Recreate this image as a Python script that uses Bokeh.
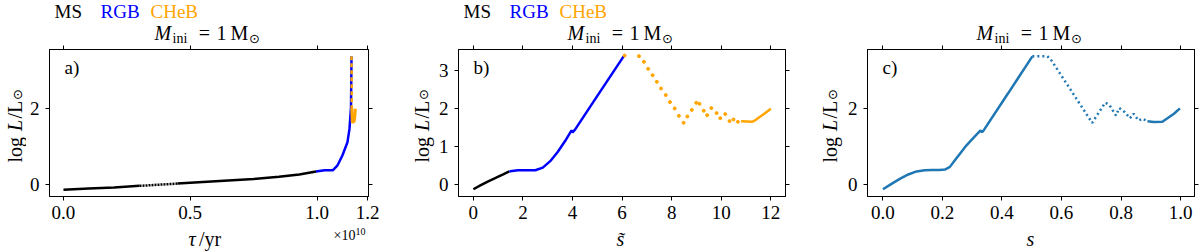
import math
from bokeh.plotting import figure
from bokeh.layouts import row, column
from bokeh.models import Range1d, FixedTicker, LinearAxis, Label, CustomJSTickFormatter
from bokeh.embed import file_html
from bokeh.resources import INLINE

# ---------------- data ----------------
# panel a) : stellar age tau [yr] vs log L/Lsun
tau_ms = [0.0, 0.10e10, 0.20e10, 0.30e10]
logL_ms_a = [-0.13, -0.10, -0.07, -0.03]
tau_ms_sparse = [0.30e10, 0.45e10]
logL_ms_sparse_a = [-0.03, 0.03]
tau_ms2 = [0.45e10, 0.55e10, 0.65e10, 0.75e10, 0.85e10, 0.93e10, 0.996e10]
logL_ms2_a = [0.03, 0.07, 0.11, 0.15, 0.21, 0.27, 0.35]
tau_rgb = [0.996e10, 1.03e10, 1.062e10, 1.08e10, 1.10e10, 1.12e10, 1.128e10, 1.134e10, 1.136e10]
logL_rgb_a = [0.35, 0.38, 0.38, 0.50, 0.77, 1.12, 1.47, 2.04, 3.38]
tau_flash = [1.136e10, 1.137e10]
logL_flash_a = [3.38, 2.04]
tau_cheb = [1.137e10, 1.139e10, 1.142e10, 1.146e10, 1.149e10, 1.151e10]
logL_cheb_a = [2.04, 1.63, 1.66, 1.66, 1.78, 2.0]

# panel b) : scaled path length s~ vs log L/Lsun
st_ms = [0.0, 0.3, 0.6, 0.9, 1.2, 1.45]
logL_ms_b = [-0.12, -0.01, 0.09, 0.18, 0.27, 0.35]
st_rgb = [1.45, 1.8, 2.2, 2.5, 2.8, 3.1, 3.4, 3.7, 3.96, 4.0, 4.1, 5.0, 6.06]
logL_rgb_b = [0.35, 0.38, 0.38, 0.38, 0.45, 0.62, 0.86, 1.15, 1.43, 1.38, 1.45, 2.34, 3.38]
st_flash = [6.10, 6.68, 6.88, 7.05, 7.23, 7.40, 7.57, 7.76, 7.93, 8.12, 8.29, 8.48, 8.63,
            8.81, 8.99, 9.12, 9.29, 9.43, 9.60, 9.81, 9.96, 10.16, 10.33, 10.49, 10.67]
logL_flash_b = [3.40, 3.385, 3.236, 3.05, 2.885, 2.71, 2.534, 2.36, 2.175, 2.008, 1.815, 1.63, 1.797,
                1.97, 2.157, 2.13, 1.947, 1.832, 2.017, 1.885, 1.753, 1.859, 1.675, 1.718, 1.657]
st_cheb = [10.8, 11.25, 11.35, 11.52, 11.72, 12.0]
logL_cheb_b = [1.67, 1.66, 1.69, 1.77, 1.86, 2.0]

# panel c) : normalised path length s vs log L/Lsun
s_1 = [0.0, 0.03, 0.058, 0.085, 0.113, 0.14, 0.165, 0.19, 0.208, 0.225, 0.241, 0.26, 0.28,
       0.30, 0.328, 0.333, 0.34, 0.42, 0.502]
logL_c1 = [-0.12, 0.03, 0.16, 0.27, 0.35, 0.38, 0.39, 0.39, 0.40, 0.47, 0.64, 0.83, 1.03,
           1.20, 1.43, 1.38, 1.45, 2.40, 3.38]
s_dot = [0.502, 0.531, 0.552, 0.564, 0.703, 0.747, 0.761, 0.783, 0.794, 0.813, 0.83, 0.842,
         0.859, 0.872, 0.889]
logL_dot = [3.38, 3.385, 3.385, 3.30, 1.63, 2.16, 2.10, 1.82, 2.02, 1.91, 1.75, 1.87,
            1.69, 1.74, 1.67]
s_2 = [0.889, 0.91, 0.939, 0.956, 0.978, 0.998]
logL_c2 = [1.67, 1.65, 1.66, 1.75, 1.87, 2.01]

# ticks / labels
xticks_a = [0.0, 0.5e10, 1.0e10, 1.2e10]
xticks_b = [0, 2, 4, 6, 8, 10, 12]
xticks_c = [0.0, 0.2, 0.4, 0.6, 0.8, 1.0]
yticks_ac = [0, 2]
yticks_b = [0, 1, 2, 3]
legend_names = ["MS", "RGB", "CHeB"]
panel_tags = ["a)", "b)", "c)"]

# ---------------- style / geometry ----------------
FONT = "Liberation Serif"
BLACK = "#000000"
BLUE = "#0000ff"
ORANGE = "#ffa500"
C0 = "#1f77b4"
LEG_COLORS = [BLACK, BLUE, ORANGE]
YR = (-0.31, 3.56)

H_HEAD, H_MAIN, H_FOOT = 45, 181, 25
H_ALL = H_HEAD + H_MAIN + H_FOOT
B_TOP, B_BOT = 4, 30
FRAME_H = H_MAIN - B_TOP - B_BOT
MID = 0.3375  # em offset between text middle and alphabetic baseline


def txt(p, x, y, s, size=19, color="black", style="normal", align="left",
        angle=0.0, font=FONT, dx=0, dy=0):
    # (x, y) is the middle of the text line
    p.add_layout(Label(x=x, y=y, x_offset=dx, y_offset=dy, text=s, text_font=font,
                       text_font_size=f"{size}px", text_font_style=style, text_color=color,
                       text_align=align, text_baseline="middle", angle=angle))


def blank_fig(w, h, yr):
    f = figure(width=w, height=h, x_range=Range1d(0, w), y_range=Range1d(*yr),
               x_axis_type=None, y_axis_type=None, min_border=0,
               min_border_left=0, min_border_right=0, min_border_top=0, min_border_bottom=0,
               output_backend="svg", toolbar_location=None)
    f.outline_line_color = None
    f.background_fill_color = "white"
    f.border_fill_color = "white"
    return f


def style_axis(ax, show_labels):
    ax.major_tick_in = 0
    ax.major_tick_out = 4
    ax.minor_tick_in = 0
    ax.minor_tick_out = 0
    ax.major_tick_line_color = "black"
    ax.major_tick_line_width = 1
    ax.axis_line_color = "black"
    ax.axis_line_width = 1
    ax.major_label_text_font = FONT
    ax.major_label_text_color = "black"
    if show_labels:
        ax.major_label_text_font_size = "19px"
    else:
        ax.formatter = CustomJSTickFormatter(code="return '';")
        ax.major_label_text_font_size = "0px"
        ax.major_label_standoff = 0


def main_fig(xr, xticks, yticks, w, left, right, fmt_code=None):
    p = figure(width=w, height=H_MAIN, min_border_left=left, min_border_right=right,
               min_border_top=B_TOP, min_border_bottom=B_BOT,
               x_range=Range1d(*xr), y_range=Range1d(*YR),
               x_axis_type=None, y_axis_type=None,
               output_backend="svg", toolbar_location=None)
    p.outline_line_color = "black"
    p.outline_line_width = 1
    p.background_fill_color = "white"
    p.border_fill_color = "white"
    for loc in ("below", "above"):
        ax = LinearAxis(ticker=FixedTicker(ticks=xticks))
        if fmt_code and loc == "below":
            ax.formatter = CustomJSTickFormatter(code=fmt_code)
        style_axis(ax, loc == "below")
        if loc == "below":
            ax.major_label_standoff = 5
        p.add_layout(ax, loc)
    for loc in ("left", "right"):
        ax = LinearAxis(ticker=FixedTicker(ticks=yticks))
        style_axis(ax, loc == "left")
        if loc == "left":
            ax.major_label_standoff = 6
        p.add_layout(ax, loc)
    return p


def header(w, fcx, fleft, with_legend):
    # data y = pixels above the strip's bottom edge (canvas y = H_HEAD - data y)
    h = blank_fig(w, H_HEAD, (0, H_HEAD))
    ym = H_HEAD - 39.3 + MID * 20          # title baseline at canvas 39.3
    txt(h, fcx - 53, ym, "M", size=20, style="italic")
    txt(h, fcx - 35, H_HEAD - 43 + MID * 14, "ini", size=14)
    txt(h, fcx - 3, ym, "=", size=20, align="center")
    txt(h, fcx + 14, ym, "1", size=20, align="center")
    txt(h, fcx + 32, ym, "M", size=20, align="center")
    txt(h, fcx + 47, H_HEAD - 38.3, "\u2299", size=13, align="center", font="DejaVu Sans")
    if with_legend:
        ylb = H_HEAD - 17 + MID * 19           # legend baseline at canvas 17
        for name, col, dx in zip(legend_names, LEG_COLORS, (8, 54, 104)):
            txt(h, fleft + dx, ylb, name, size=19, color=col)
    return h


def ylab(w, xb):
    # same height as the plot row; its frame lines up with the plot frame,
    # so data y = pixels above the frame bottom
    f = blank_fig(w, H_MAIN, (0, FRAME_H))
    a = math.pi / 2
    xm = xb - MID * 20
    y0 = 34
    txt(f, xm, y0, "log", size=20, angle=a)
    txt(f, xm, y0 + 31.5, "L", size=20, style="italic", angle=a)
    txt(f, xm, y0 + 44, "/L", size=20, angle=a)
    txt(f, xb - 5, y0 + 68, "\u2299", size=13, angle=a, align="center", font="DejaVu Sans")
    return f


def footer(w, fcx, label_parts, fright=None):
    # data y = pixels above the page bottom (canvas y = H_ALL - data y)
    f = blank_fig(w, H_FOOT, (0, H_FOOT))
    ym = H_ALL - 245.5 + MID * 20
    for x, s, style, align in label_parts:
        txt(f, fcx + x, ym, s, size=20, style=style, align=align)
    if fright is not None:
        txt(f, fright - 13, H_ALL - 240 + MID * 14, "\u00d710", size=14, align="right")
        txt(f, fright - 13, H_ALL - 234.5 + MID * 10, "10", size=10)
    return f


# ---------------- panel a ----------------
WA, WYA = 404, 26
pa = main_fig((-0.055e10, 1.203e10), xticks_a, yticks_ac, WA - WYA, 20, 36,
              fmt_code="return (tick/1e10).toFixed(1);")
pa.line(tau_ms, logL_ms_a, color=BLACK, line_width=2.5)
pa.line(tau_ms_sparse, logL_ms_sparse_a, color=BLACK, line_width=2.5, line_dash="2 1")
pa.line(tau_ms2, logL_ms2_a, color=BLACK, line_width=2.5)
pa.line(tau_rgb, logL_rgb_a, color=BLUE, line_width=2.5)
pa.line(tau_flash, logL_flash_a, color=ORANGE, line_width=2.5, line_dash="4 3")
pa.line(tau_cheb, logL_cheb_a, color=ORANGE, line_width=3)
txt(pa, -0.055e10, YR[1], panel_tags[0], dx=15, dy=-18, size=19)
fa_l, fa_r = 46, 368
cxa = (fa_l + fa_r) / 2
col_a = column(header(WA, cxa, fa_l, True),
               row(ylab(WYA, 21.5), pa),
               footer(WA, cxa, [(-19, "\u03c4", "italic", "left"), (-8.5, "/yr", "normal", "left")], fa_r),
               spacing=0)

# ---------------- panel b ----------------
WB, WYB = 406, 31
pb = main_fig((-0.6, 12.59), xticks_b, yticks_b, WB - WYB, 20, 25)
pb.line(st_ms, logL_ms_b, color=BLACK, line_width=2.5)
pb.line(st_rgb, logL_rgb_b, color=BLUE, line_width=2.5)
pb.scatter(st_flash, logL_flash_b, color=ORANGE, size=3, marker="circle")
pb.line(st_cheb, logL_cheb_b, color=ORANGE, line_width=2.5)
txt(pb, -0.6, YR[1], panel_tags[1], dx=15, dy=-18, size=19)
fb_l, fb_r = 51, 381
cxb = (fb_l + fb_r) / 2
col_b = column(header(WB, cxb, fb_l, True),
               row(ylab(WYB, 24.3), pb),
               footer(WB, cxb, [(0, "s\u0303", "italic", "center")]),
               spacing=0)

# ---------------- panel c ----------------
WC, WYC = 390, 34
pc = main_fig((-0.052, 1.047), xticks_c, yticks_ac, WC - WYC, 20, 6,
              fmt_code="return tick.toFixed(1);")
pc.line(s_1, logL_c1, color=C0, line_width=2.5)
pc.line(s_dot, logL_dot, color=C0, line_width=2.5, line_dash="2 3")
pc.line(s_2, logL_c2, color=C0, line_width=2.5)
txt(pc, -0.052, YR[1], panel_tags[2], dx=15, dy=-18, size=19)
fc_l, fc_r = 54, 384
cxc = (fc_l + fc_r) / 2
col_c = column(header(WC, cxc, fc_l, False),
               row(ylab(WYC, 26.7), pc),
               footer(WC, cxc, [(1, "s", "italic", "center")]),
               spacing=0)

layout = row(col_a, col_b, col_c, spacing=0)
open("out.html", "w").write(file_html(layout, INLINE))
